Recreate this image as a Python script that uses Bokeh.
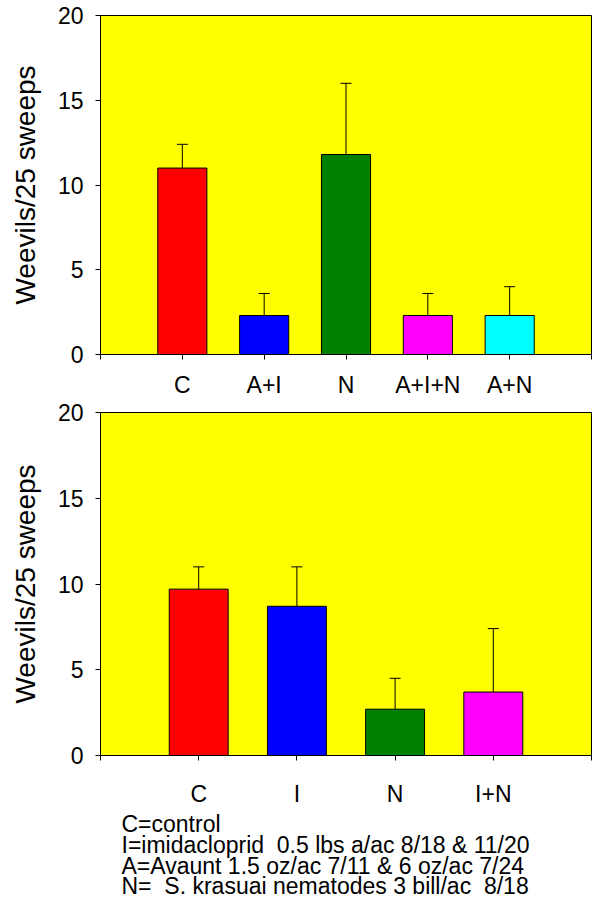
from bokeh.plotting import figure
from bokeh.models import (ColumnDataSource, Range1d, FixedTicker, Whisker, Title)
from bokeh.layouts import column
from bokeh.embed import file_html
from bokeh.resources import INLINE

# ---- data ----
top_cats = ["C", "A+I", "N", "A+I+N", "A+N"]
top_means = [11.0, 2.3, 11.8, 2.3, 2.3]
top_errs = [1.4, 1.3, 4.2, 1.3, 1.7]
top_colors = ["#FF0000", "#0000FF", "#008000", "#FF00FF", "#00FFFF"]

bot_cats = ["C", "I", "N", "I+N"]
bot_means = [9.7, 8.7, 2.7, 3.7]
bot_errs = [1.3, 2.3, 1.8, 3.7]
bot_colors = ["#FF0000", "#0000FF", "#008000", "#FF00FF"]

y_ticks = [0, 5, 10, 15, 20]
y_label = "Weevils/25 sweeps"
caption_lines = [
    "C=control",
    "I=imidacloprid\u00a0 0.5 lbs a/ac 8/18 & 11/20",
    "A=Avaunt 1.5 oz/ac 7/11 & 6 oz/ac 7/24",
    "N=\u00a0 S. krasuai nematodes 3 bill/ac\u00a0 8/18",
]

FONT = "Liberation Sans"


def make_panel(cats, means, errs, colors, height, border_top, border_bottom,
               x_standoff):
    n = len(cats)
    xs = list(range(1, n + 1))
    src = ColumnDataSource(dict(
        x=xs, top=means,
        upper=[m + e for m, e in zip(means, errs)],
        color=colors))
    p = figure(width=594, height=height, output_backend="svg",
               toolbar_location=None, x_range=Range1d(0, n + 1),
               y_range=Range1d(0, 20),
               min_border_left=100, min_border_right=3,
               min_border_top=border_top, min_border_bottom=border_bottom)
    p.background_fill_color = "#FFFF00"
    p.border_fill_color = "white"
    p.outline_line_color = "black"
    p.outline_line_width = 1
    p.xgrid.visible = False
    p.ygrid.visible = False

    w = Whisker(source=src, base="x", upper="upper", lower="top",
                dimension="height", line_color="black", line_width=1)
    w.lower_head = None
    w.upper_head.size = 11
    w.upper_head.line_color = "black"
    w.upper_head.line_width = 1
    p.add_layout(w)

    p.vbar(x="x", top="top", bottom=0, width=0.6, source=src,
           fill_color="color", line_color="black", line_width=1)

    xa = p.xaxis[0]
    xa.ticker = FixedTicker(ticks=list(range(0, n + 2)))
    overrides = {0: "", n + 1: ""}
    for i, c in enumerate(cats):
        overrides[i + 1] = c
    xa.major_label_overrides = overrides
    xa.major_tick_in = 0
    xa.major_tick_out = 5
    xa.minor_tick_line_color = None
    xa.axis_line_color = "black"
    xa.major_tick_line_color = "black"
    xa.major_label_standoff = x_standoff
    xa.major_label_text_font = FONT
    xa.major_label_text_font_size = "23px"
    xa.major_label_text_color = "black"

    ya = p.yaxis[0]
    ya.ticker = FixedTicker(ticks=y_ticks)
    ya.major_tick_in = 0
    ya.major_tick_out = 5
    ya.minor_tick_line_color = None
    ya.axis_line_color = "black"
    ya.major_tick_line_color = "black"
    ya.major_label_standoff = 12
    ya.major_label_text_font = FONT
    ya.major_label_text_font_size = "23px"
    ya.major_label_text_color = "black"
    ya.axis_label = y_label
    ya.axis_label_text_font = FONT
    ya.axis_label_text_font_size = "28px"
    ya.axis_label_text_font_style = "normal"
    ya.axis_label_text_color = "black"
    ya.axis_label_standoff = 14
    return p


p1 = make_panel(top_cats, top_means, top_errs, top_colors, 400, 15, 42, 12)
p2 = make_panel(bot_cats, bot_means, bot_errs, bot_colors, 505, 12, 150, 20)

cap = Title(text="\n".join(caption_lines), align="left", offset=21,
            text_font=FONT, text_font_size="23px",
            text_font_style="normal", text_color="black",
            text_line_height=0.8, standoff=0)
p2.add_layout(cap, "below")

layout = column(p1, p2, spacing=0)
open("out.html", "w").write(file_html(layout, INLINE))
